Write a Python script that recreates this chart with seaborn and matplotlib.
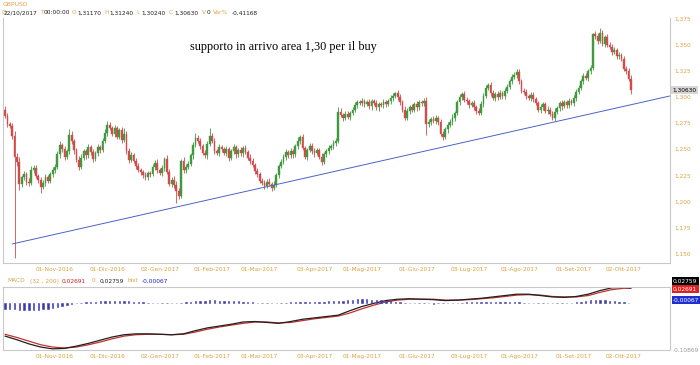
import numpy as np
import pandas as pd
import matplotlib
matplotlib.use("Agg")
import matplotlib.pyplot as plt
import matplotlib.transforms as mtransforms
import seaborn as sns

# ---------------- data ----------------
symbol = "GBPUSD"
first_date = "2016-10-03"
first_open = 1.2880
close = [
    1.2820, 1.2745, 1.2720, 1.2630, 1.2430, 1.2380, 1.2170, 1.2230, 1.2260, 1.2190, 1.2180, 1.2300, 1.2320, 1.2240, 1.2210, 1.2140, 1.2180, 1.2230, 1.2200, 1.2260,
    1.2300, 1.2330, 1.2450, 1.2540, 1.2500, 1.2430, 1.2480, 1.2640, 1.2580, 1.2490, 1.2400, 1.2330, 1.2420, 1.2480, 1.2440, 1.2520, 1.2470, 1.2410, 1.2460, 1.2520,
    1.2490, 1.2580, 1.2660, 1.2730, 1.2700, 1.2650, 1.2700, 1.2620, 1.2680, 1.2590, 1.2650, 1.2480, 1.2400, 1.2440, 1.2390, 1.2340, 1.2300, 1.2280, 1.2250, 1.2230,
    1.2270, 1.2260, 1.2330, 1.2370, 1.2300, 1.2270, 1.2320, 1.2410, 1.2280, 1.2170, 1.2210, 1.2160, 1.2100, 1.2050, 1.2390, 1.2300, 1.2330, 1.2360, 1.2440, 1.2540,
    1.2610, 1.2580, 1.2530, 1.2460, 1.2440, 1.2550, 1.2630, 1.2580, 1.2480, 1.2460, 1.2520, 1.2500, 1.2460, 1.2500, 1.2420, 1.2480, 1.2520, 1.2450, 1.2490, 1.2460,
    1.2510, 1.2470, 1.2420, 1.2390, 1.2350, 1.2290, 1.2260, 1.2200, 1.2180, 1.2150, 1.2190, 1.2170, 1.2130, 1.2160, 1.2250, 1.2340, 1.2380, 1.2430, 1.2470, 1.2440,
    1.2480, 1.2450, 1.2530, 1.2580, 1.2620, 1.2510, 1.2430, 1.2490, 1.2530, 1.2480, 1.2460, 1.2490, 1.2430, 1.2380, 1.2450, 1.2480, 1.2510, 1.2530, 1.2560, 1.2580,
    1.2860, 1.2830, 1.2800, 1.2840, 1.2810, 1.2850, 1.2880, 1.2920, 1.2950, 1.2940, 1.2960, 1.2930, 1.2950, 1.2910, 1.2960, 1.2940, 1.2900, 1.2930, 1.2920, 1.2950,
    1.2930, 1.2960, 1.2990, 1.3010, 1.3040, 1.3000, 1.2950, 1.2880, 1.2800, 1.2870, 1.2900, 1.2880, 1.2930, 1.2900, 1.2950, 1.2940, 1.2960, 1.2740, 1.2760, 1.2790,
    1.2770, 1.2800, 1.2760, 1.2650, 1.2620, 1.2690, 1.2730, 1.2760, 1.2800, 1.2850, 1.2950, 1.3000, 1.3030, 1.2970, 1.2960, 1.2920, 1.2940, 1.2900, 1.2870, 1.2850,
    1.2930, 1.3010, 1.3090, 1.3110, 1.3040, 1.2990, 1.3030, 1.3000, 1.3040, 1.3010, 1.3060, 1.3100, 1.3150, 1.3190, 1.3210, 1.3240, 1.3150, 1.3060, 1.3050, 1.3010,
    1.2990, 1.3020, 1.2980, 1.2940, 1.2880, 1.2900, 1.2930, 1.2870, 1.2880, 1.2840, 1.2800, 1.2860, 1.2890, 1.2940, 1.2910, 1.2950, 1.2920, 1.2960, 1.2940, 1.2990,
    1.3050, 1.3090, 1.3150, 1.3200, 1.3180, 1.3250, 1.3280, 1.3600, 1.3580, 1.3540, 1.3610, 1.3510, 1.3570, 1.3500, 1.3480, 1.3430, 1.3450, 1.3390, 1.3400, 1.3360,
    1.3270, 1.3250, 1.3170, 1.3063,
]
upper_wick_pips = [
    30, 25, 20, 35, 40, 30, 45, 25, 30, 20, 35, 40, 25, 30, 20, 25, 30, 35, 20, 25,
    30, 25, 35, 40, 20, 30, 25, 50, 30, 20, 25, 35, 30, 20, 25, 30, 20, 35, 25, 30,
    20, 25, 30, 40, 35, 20, 30, 25, 20, 30, 50, 25, 30, 35, 20, 25, 30, 20, 25, 30,
    25, 20, 30, 25, 35, 20, 25, 20, 30, 35, 25, 30, 40, 30, 20, 35, 25, 30, 20, 25,
    50, 30, 25, 20, 30, 25, 70, 30, 25, 20, 30, 25, 20, 30, 25, 20, 30, 25, 20, 30,
    25, 35, 20, 30, 25, 20, 35, 25, 20, 30, 25, 30, 20, 35, 25, 20, 30, 25, 35, 20,
    30, 25, 20, 35, 20, 30, 25, 20, 30, 25, 35, 20, 25, 30, 20, 25, 30, 20, 25, 30,
    45, 30, 20, 25, 30, 20, 25, 30, 20, 25, 30, 25, 20, 30, 25, 20, 30, 25, 20, 30,
    25, 20, 30, 25, 8, 30, 25, 20, 30, 25, 20, 30, 25, 35, 20, 25, 30, 40, 25, 20,
    30, 25, 20, 30, 25, 20, 30, 25, 35, 20, 25, 30, 20, 25, 30, 20, 25, 30, 20, 25,
    30, 25, 20, 20, 30, 25, 20, 30, 25, 20, 30, 25, 20, 30, 25, 25, 30, 20, 25, 30,
    20, 25, 30, 20, 25, 30, 20, 25, 30, 20, 25, 30, 20, 25, 30, 20, 25, 30, 20, 25,
    30, 25, 20, 30, 25, 20, 30, 15, 35, 30, 50, 30, 25, 35, 30, 25, 30, 20, 35, 25,
    30, 25, 30, 40,
]
lower_wick_pips = [
    25, 30, 20, 35, 970, 40, 60, 30, 25, 35, 30, 25, 30, 20, 35, 60, 25, 30, 20, 25,
    25, 30, 20, 35, 25, 30, 20, 25, 30, 35, 25, 30, 20, 25, 30, 20, 25, 30, 20, 25,
    30, 20, 25, 30, 20, 25, 30, 20, 25, 30, 20, 25, 35, 20, 25, 30, 20, 25, 30, 20,
    25, 30, 20, 25, 30, 20, 25, 30, 20, 25, 30, 35, 110, 30, 20, 25, 30, 20, 25, 30,
    20, 25, 30, 20, 25, 30, 20, 25, 30, 20, 25, 30, 20, 25, 30, 20, 25, 30, 20, 25,
    30, 20, 25, 30, 20, 25, 30, 20, 25, 30, 20, 25, 30, 20, 25, 30, 20, 25, 30, 20,
    25, 30, 20, 25, 30, 20, 25, 30, 20, 25, 30, 20, 25, 30, 20, 25, 30, 20, 25, 30,
    20, 25, 30, 20, 25, 30, 20, 25, 30, 20, 25, 30, 20, 25, 30, 20, 25, 30, 20, 25,
    30, 20, 25, 30, 20, 25, 30, 20, 20, 25, 30, 20, 25, 30, 20, 25, 30, 100, 25, 30,
    20, 25, 30, 20, 30, 25, 30, 20, 25, 30, 20, 25, 30, 20, 25, 30, 20, 25, 30, 20,
    25, 30, 20, 25, 30, 20, 25, 30, 20, 25, 30, 20, 25, 30, 20, 25, 30, 20, 25, 30,
    20, 25, 30, 20, 25, 30, 20, 25, 30, 20, 25, 30, 20, 25, 30, 20, 25, 30, 20, 25,
    30, 20, 25, 30, 20, 25, 30, 20, 25, 30, 20, 25, 30, 20, 25, 30, 20, 25, 30, 20,
    25, 30, 20, 30,
]

tick_dates = ["2016-11-01", "2016-12-01", "2017-01-02", "2017-02-01", "2017-03-01", "2017-04-03",
              "2017-05-01", "2017-06-01", "2017-07-03", "2017-08-01", "2017-09-01", "2017-10-02"]
tick_labels = ["01-Nov-2016", "01-Dic-2016", "02-Gen-2017", "01-Feb-2017", "01-Mar-2017", "03-Apr-2017",
               "01-Mag-2017", "01-Giu-2017", "03-Lug-2017", "01-Ago-2017", "01-Set-2017", "02-Ott-2017"]
price_ticks = [1.150, 1.175, 1.200, 1.225, 1.250, 1.275, 1.300, 1.325, 1.350, 1.375]

# trend line anchors (candle index, price)
trend_idx = [3, 279.4]
trend_price = [1.1593, 1.3010]

annotation = "supporto in arrivo area 1,30 per il buy"

# MACD (32, 200) sampled every 5 candles + last candle
macd_idx = [0, 5, 10, 15, 20, 25, 30, 35, 40, 45, 50, 55, 60, 65, 70, 75, 80, 85, 90, 95,
            100, 105, 110, 115, 120, 125, 130, 135, 140, 145, 150, 155, 160, 165, 170, 175,
            180, 185, 190, 195, 200, 205, 210, 215, 220, 225, 230, 235, 240, 245, 250, 255, 260, 263]
macd = [-0.078, -0.086, -0.095, -0.102, -0.106, -0.105, -0.100, -0.094, -0.087, -0.080,
        -0.075, -0.073, -0.073, -0.074, -0.075, -0.073, -0.066, -0.060, -0.056, -0.052,
        -0.047, -0.046, -0.048, -0.050, -0.046, -0.041, -0.038, -0.035, -0.032, -0.022,
        -0.013, -0.006, 0.000, 0.003, 0.004, 0.003, 0.002, 0.000, 0.001, 0.003,
        0.005, 0.008, 0.011, 0.014, 0.014, 0.011, 0.008, 0.007, 0.009, 0.014,
        0.022, 0.028, 0.029, 0.02759]
signal = [-0.074, -0.081, -0.089, -0.097, -0.102, -0.104, -0.102, -0.097, -0.091, -0.084,
          -0.078, -0.075, -0.074, -0.074, -0.075, -0.074, -0.069, -0.063, -0.058, -0.054,
          -0.050, -0.047, -0.047, -0.049, -0.048, -0.044, -0.040, -0.037, -0.034, -0.027,
          -0.018, -0.010, -0.003, 0.001, 0.003, 0.003, 0.003, 0.001, 0.001, 0.002,
          0.004, 0.006, 0.009, 0.012, 0.013, 0.012, 0.009, 0.008, 0.008, 0.011,
          0.018, 0.024, 0.027, 0.02691]
# histogram every 2 candles (units of 1e-4)
hist_1e4 = [
    -40, -42, -45, -48, -50, -52, -50, -48, -45, -42, -38,
    -30, -22, -15, -8, -2, 3, 6, 8, 10, 12,
    14, 16, 17, 16, 14, 12, 10,
    7, 5, 3, 2, 1, 0, -1, -1, 0, 1,
    4, 8, 12, 15, 17, 18, 18, 17, 16, 15, 14, 12, 10,
    7, 4, 1, -2, -3, -3, -2,
    0, 3, 5, 7, 8, 8, 8, 9, 10, 10, 11, 12, 13,
    16, 20, 24, 26, 27, 26, 24, 21, 18, 15, 12, 9, 6,
    3, 1, 0, -2, -3, -3, -4, -3, -2, -1, 0, 1,
    3, 5, 7, 8, 9, 10, 10, 10, 9, 9, 8, 7,
    5, 3, 1, 0, -2, -3, -3, -2, -1, 0, 1, 3, 6,
    10, 14, 18, 21, 22, 20, 17, 14, 10, 6, 2,
]
macd_last, signal_last, hist_last, macd_low = 0.02759, 0.02691, -0.00067, -0.10869

# ---------------- prep ----------------
n = len(close)
dates = pd.bdate_range(first_date, periods=n)
c = np.array(close)
o = np.r_[first_open, c[:-1]]
hi = np.maximum(o, c) + np.array(upper_wick_pips) / 10000
lo = np.minimum(o, c) - np.array(lower_wick_pips) / 10000
df = pd.DataFrame({"date": dates, "x": np.arange(n), "open": o, "close": c, "high": hi, "low": lo})
df["up"] = df["close"] >= df["open"]
tick_pos = [int(np.where(dates == pd.Timestamp(d))[0][0]) for d in tick_dates]
hist_x = np.arange(0, n - 1, 2)[:len(hist_1e4)]

GREEN = "#3f9a3f"
RED = "#d24b4b"
ORANGE = "#d9a441"
GRID = "#c9c9c9"

sns.set_theme(style="white")
plt.rcParams["font.family"] = ["DejaVu Sans"]

fig = plt.figure(figsize=(7, 3.65), dpi=100)
W, H = 700, 365
ax = fig.add_axes([3 / W, 1 - 263 / H, 667 / W, 245 / H])
ax2 = fig.add_axes([3 / W, 1 - 350 / H, 667 / W, 63 / H])

# ---------------- candles ----------------
cols = np.where(df["up"], GREEN, RED)
ax.vlines(df["x"], df["low"], df["high"], colors=cols, linewidth=0.6)
ax.bar(df["x"], df["close"] - df["open"], bottom=df["open"], width=0.75,
       color=cols, edgecolor=cols, linewidth=0.3)

sns.lineplot(x=trend_idx, y=trend_price, ax=ax, color="#4a63c8", linewidth=0.7)

ax.set_xlim(-0.85, 279.4)
ax.set_ylim(1.1411, 1.3756)
ax.yaxis.tick_right()
ax.set_yticks(price_ticks)
ax.set_yticklabels([f"{p:.3f}".replace(".", ",") for p in price_ticks])
ax.tick_params(axis="y", labelsize=4.2, labelcolor=ORANGE, length=0, pad=3)
ax.set_xticks(tick_pos)
ax.set_xticklabels(tick_labels)
ax.tick_params(axis="x", labelsize=4.2, labelcolor=ORANGE, length=0, pad=3)
ax.set_xlabel("")
ax.set_ylabel("")
for s in ["left", "bottom", "right"]:
    ax.spines[s].set_color(GRID)
    ax.spines[s].set_linewidth(0.8)
ax.spines["top"].set_visible(False)

tr = mtransforms.blended_transform_factory(ax.transAxes, ax.transData)
ax.text(1.004, close[-1], f"{close[-1]:.5f}".replace(".", ","), transform=tr, fontsize=4.2,
        va="center", ha="left", color="black",
        bbox=dict(boxstyle="square,pad=0.25", fc="#d6d6d6", ec="none"))

fig.text(190 / W, 1 - 47 / H, annotation, fontsize=8.8, family="Liberation Serif", color="black",
         va="center", ha="left")

# ---------------- MACD panel ----------------
sns.lineplot(x=macd_idx, y=signal, ax=ax2, color="#c83030", linewidth=0.9)
sns.lineplot(x=macd_idx, y=macd, ax=ax2, color="#202020", linewidth=0.9)
ax2.set_xlim(-0.85, 279.4)
ax2.set_ylim(-0.1085, 0.0298)
ax2.set_yticks([])
ax2.set_xticks(tick_pos)
ax2.set_xticklabels(tick_labels)
ax2.tick_params(axis="x", labelsize=4.2, labelcolor=ORANGE, length=0, pad=3)
ax2.set_xlabel("")
ax2.set_ylabel("")
for s in ax2.spines.values():
    s.set_color(GRID)
    s.set_linewidth(0.8)

ax3 = ax2.twinx()
ax3.bar(hist_x, np.array(hist_1e4) / 10000, width=0.6, color="#3a3ab0",
        edgecolor="#3a3ab0", linewidth=0.4)
ax3.set_ylim(-0.0336, 0.0114)
ax3.set_yticks([])
ax3.set_xlim(-0.85, 279.4)
for s in ax3.spines.values():
    s.set_visible(False)

# ---------------- header texts ----------------
def ftext(x, y, s, color, size=4.2, **kw):
    fig.text(x / W, 1 - y / H, s, color=color, fontsize=size, va="center", ha="left", **kw)

ftext(3, 5, symbol, ORANGE, 4.4)
hdr = [(1, "D", ORANGE), (4, "22/10/2017", "#222222"), (40, "T", ORANGE), (44, "00:00:00", "#222222"),
       (72, "O", ORANGE), (77, "1,31170", "#222222"), (104, "H", ORANGE), (109, "1,31240", "#222222"),
       (136, "L", ORANGE), (141, "1,30240", "#222222"), (169, "C", ORANGE), (174, "1,30630", "#222222"),
       (202, "V", ORANGE), (207, "0", "#222222"), (213, "Var%", ORANGE), (232, "-0,41168", "#222222")]
for x, s, col in hdr:
    ftext(x, 13, s, col)

mrow = [(7, "MACD", ORANGE), (30, "(32 , 200)", ORANGE), (62, "0,02691", "#d02020"), (92, "0", ORANGE),
        (100, "0,02759", "#222222"), (128, "hist", ORANGE), (142, "-0,00067", "#2020c0")]
for x, s, col in mrow:
    ftext(x, 281, s, col)

def boxlabel(y, s, fc, tc="white"):
    fig.text(673 / W, 1 - y / H, s, color=tc, fontsize=4.2, va="center", ha="left",
             bbox=dict(boxstyle="square,pad=0.25", fc=fc, ec="none"))

boxlabel(281, f"{macd_last:.5f}".replace(".", ","), "black")
boxlabel(289, f"{signal_last:.5f}".replace(".", ","), "#e02020")
boxlabel(300, f"{hist_last:.5f}".replace(".", ","), "#2030d0")
ftext(673, 350, f"{macd_low:.5f}".replace(".", ","), "#9a9a9a")

fig.savefig("out.png", dpi=100, facecolor="white")
